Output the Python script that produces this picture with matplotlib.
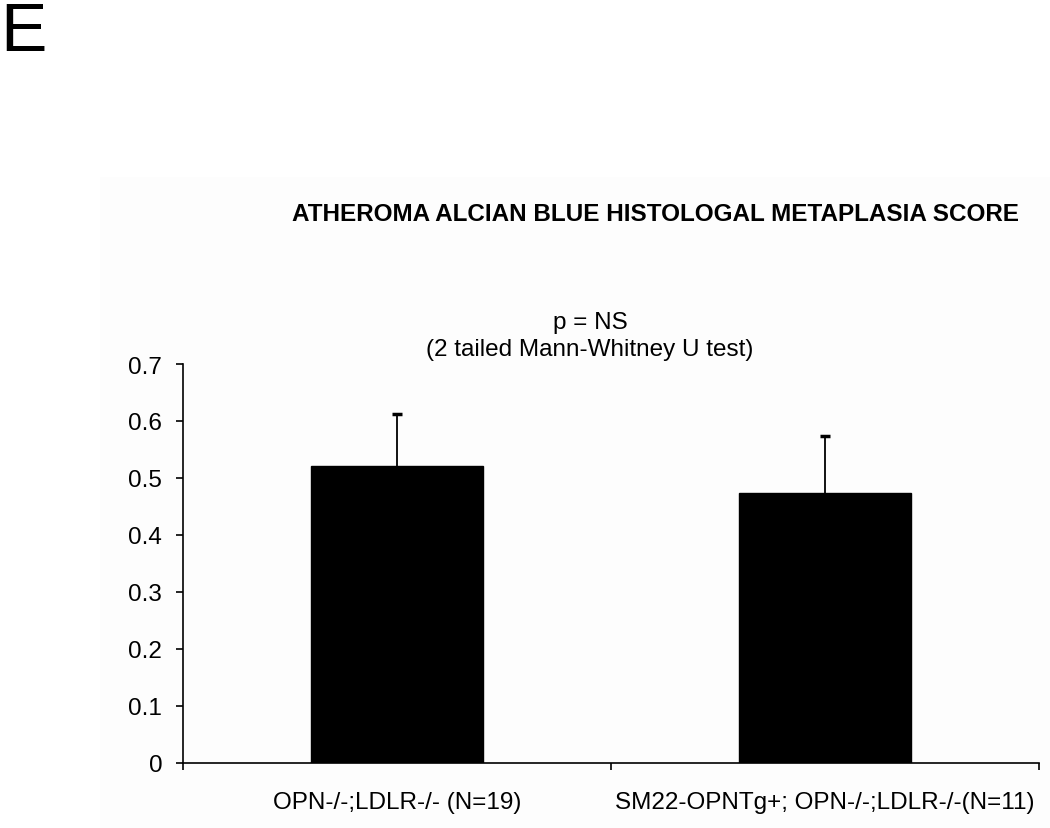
import matplotlib
matplotlib.use("Agg")
import matplotlib.pyplot as plt
from matplotlib.patches import Rectangle

categories = ["OPN-/-;LDLR-/- (N=19)", "SM22-OPNTg+; OPN-/-;LDLR-/-(N=11)"]
means = [0.521, 0.474]
errors = [0.091, 0.100]
yticks = [0, 0.1, 0.2, 0.3, 0.4, 0.5, 0.6, 0.7]
ytick_labels = ["0", "0.1", "0.2", "0.3", "0.4", "0.5", "0.6", "0.7"]

plt.rcParams['font.family'] = ['Liberation Sans', 'DejaVu Sans']
FS = 17.5

fig = plt.figure(figsize=(10.5, 8.29), dpi=100)
bg = Rectangle((100/1050, 0), 1 - 100/1050, 1 - 178/829,
               transform=fig.transFigure, facecolor='#fdfdfd',
               edgecolor='none', zorder=-10)
fig.patches.append(bg)

ax = fig.add_axes([183/1050, 1 - 764/829, (1039 - 183)/1050, (764 - 365)/829])
ax.set_zorder(5)
ax.patch.set_alpha(0)

xpos = [0.5, 1.5]
tops = [m + e for m, e in zip(means, errors)]
ax.bar(xpos, means, width=0.4, color='black', edgecolor='black', zorder=2)
ax.vlines(xpos, means, tops, colors='black', linewidth=1.3, zorder=1)
ax.plot(xpos, tops, linestyle='none', marker='_', markersize=7,
        markeredgewidth=2.5, color='black', zorder=1)

ax.set_xlim(0, 2)
ax.set_ylim(0, 0.7)
ax.set_yticks(yticks)
ax.set_yticklabels(ytick_labels, fontsize=FS)
ax.set_xticks([0, 1, 2])
ax.set_xticklabels([])
ax.set_xticks(xpos, minor=True)
ax.set_xticklabels(categories, minor=True, fontsize=FS)
ax.tick_params(axis='x', which='minor', length=0, pad=20)
ax.tick_params(axis='x', which='major', direction='out', length=5, width=1.2)
ax.tick_params(axis='y', direction='out', length=5, width=1.2, pad=10)

for s in ['top', 'right']:
    ax.spines[s].set_visible(False)
for s in ['left', 'bottom']:
    ax.spines[s].set_linewidth(1.2)

fig.text(655/1050, 1 - 215/829, "ATHEROMA ALCIAN BLUE HISTOLOGAL METAPLASIA SCORE",
         ha='center', va='center', fontsize=FS, fontweight='bold')
fig.text(590/1050, 1 - 323/829, "p = NS", ha='center', va='center', fontsize=FS)
fig.text(590/1050, 1 - 350/829, "(2 tailed Mann-Whitney U test)", ha='center',
         va='center', fontsize=FS)
fig.text(0, 1 - 51/829, "E", ha='left', va='baseline', fontsize=50)

fig.savefig("out.png", dpi=100)
